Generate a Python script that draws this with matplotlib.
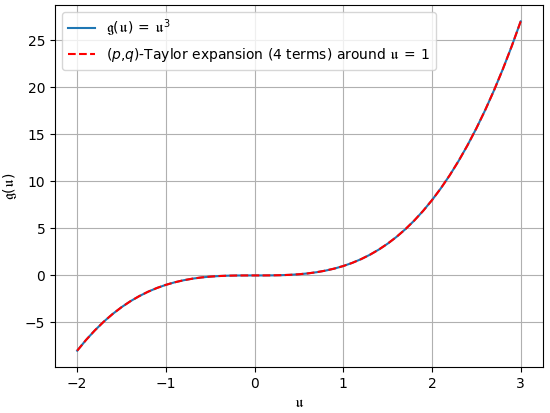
import matplotlib
matplotlib.use("Agg")
import matplotlib.pyplot as plt

u_values = [-2.0, -1.9, -1.8, -1.7, -1.6, -1.5, -1.4, -1.3, -1.2, -1.1,
            -1.0, -0.9, -0.8, -0.7, -0.6, -0.5, -0.4, -0.3, -0.2, -0.1,
            0.0, 0.1, 0.2, 0.3, 0.4, 0.5, 0.6, 0.7, 0.8, 0.9,
            1.0, 1.1, 1.2, 1.3, 1.4, 1.5, 1.6, 1.7, 1.8, 1.9,
            2.0, 2.1, 2.2, 2.3, 2.4, 2.5, 2.6, 2.7, 2.8, 2.9, 3.0]
g_values = [-8.0, -6.859, -5.832, -4.913, -4.096, -3.375, -2.744, -2.197, -1.728, -1.331,
            -1.0, -0.729, -0.512, -0.343, -0.216, -0.125, -0.064, -0.027, -0.008, -0.001,
            0.0, 0.001, 0.008, 0.027, 0.064, 0.125, 0.216, 0.343, 0.512, 0.729,
            1.0, 1.331, 1.728, 2.197, 2.744, 3.375, 4.096, 4.913, 5.832, 6.859,
            8.0, 9.261, 10.648, 12.167, 13.824, 15.625, 17.576, 19.683, 21.952, 24.389, 27.0]
taylor_values = list(g_values)  # 4-term expansion of a cubic is exact

fig, ax = plt.subplots(figsize=(5.5, 4.13), dpi=100)
ax.plot(u_values, g_values, label=r'$\mathfrak{g}(\mathfrak{u})\,=\,\mathfrak{u}^3$')
ax.plot(u_values, taylor_values, 'r--',
        label=r'($p$,$q$)-Taylor expansion (4 terms) around $\mathfrak{u}\,=\,1$')

ax.set_xlabel(r'$\mathfrak{u}$')
ax.set_ylabel(r'$\mathfrak{g}(\mathfrak{u})$')
ax.grid(True)
ax.legend(loc='upper left')

fig.subplots_adjust(left=0.1, right=0.987, top=0.988, bottom=0.111)
plt.savefig("out.png")
